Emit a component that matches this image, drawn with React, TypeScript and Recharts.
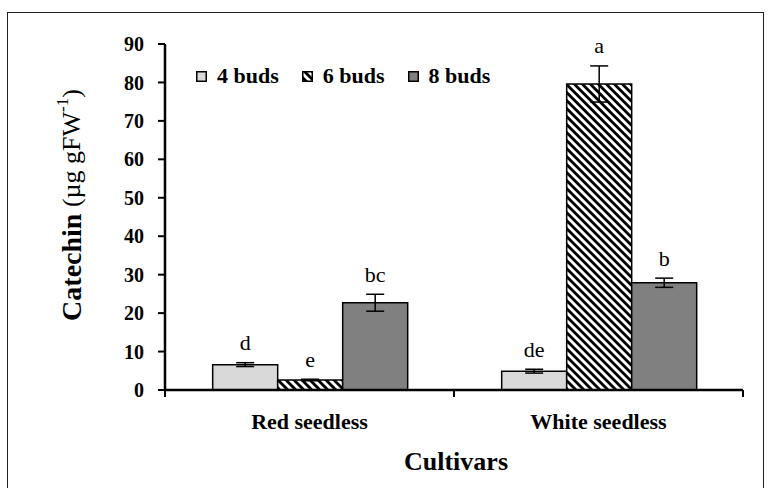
import React from 'react';
import { BarChart, Bar, XAxis, YAxis, ErrorBar, Legend, LabelList } from 'recharts';

const cultivars = ['Red seedless', 'White seedless'];
const buds4 = [6.6, 4.9];
const buds6 = [2.6, 79.6];
const buds8 = [22.7, 27.9];
const err4 = [0.5, 0.5];
const err6 = [0.2, 4.7];
const err8 = [2.2, 1.2];
const letters4 = ['d', 'de'];
const letters6 = ['e', 'a'];
const letters8 = ['bc', 'b'];
const yTicks = [0, 10, 20, 30, 40, 50, 60, 70, 80, 90];
const seriesNames = ['4 buds', '6 buds', '8 buds'];

const FONT = '"Liberation Serif", "Times New Roman", serif';
const FILLS = ['#d9d9d9', 'url(#hatch6)', '#808080'];
const X_TICK = 7;
const X_MARGIN = 32;

const data = cultivars.map((c, i) => ({
  name: c,
  b4: buds4[i],
  b6: buds6[i],
  b8: buds8[i],
  e4: err4[i],
  e6: err6[i],
  e8: err8[i],
}));

const makeLetter = (letters: string[], errs: number[], vals: number[]) => (props: any) => {
  const { x, y, width, height, index } = props;
  const i = typeof index === 'number' ? index : vals.indexOf(props.value);
  const errPx = vals[i] ? (errs[i] / vals[i]) * height : 0;
  return (
    <text
      x={x + width / 2}
      y={y - errPx - 20}
      textAnchor="middle"
      dominantBaseline="central"
      fontFamily={FONT}
      fontSize={22}
      fill="#000"
    >
      {letters[i]}
    </text>
  );
};

const XTick = (props: any) => {
  const { x, y, payload, index, visibleTicksCount } = props;
  const axisY = y - X_TICK - X_MARGIN;
  const half = payload && typeof payload.offset === 'number' ? payload.offset : 0;
  const count = visibleTicksCount || cultivars.length;
  return (
    <g>
      <line x1={x - half} x2={x - half} y1={axisY} y2={axisY + X_TICK} stroke="#000" strokeWidth={2} />
      {index === count - 1 && (
        <line x1={x + half} x2={x + half} y1={axisY} y2={axisY + X_TICK} stroke="#000" strokeWidth={2} />
      )}
      <text x={x} y={y} textAnchor="middle" fontFamily={FONT} fontSize={22} fontWeight="bold" fill="#000">
        {payload.value}
      </text>
    </g>
  );
};

const legendContent = () => (
  <div style={{ display: 'flex', alignItems: 'center', fontFamily: FONT, fontWeight: 'bold', fontSize: 22, color: '#000' }}>
    {seriesNames.map((n, i) => (
      <div key={n} style={{ display: 'flex', alignItems: 'center', marginRight: 23 }}>
        <svg width={11} height={11} style={{ display: 'block' }}>
          <rect x={0.75} y={0.75} width={9.5} height={9.5} fill={FILLS[i]} stroke="#000" strokeWidth={1.5} />
        </svg>
        <span style={{ marginLeft: 10, lineHeight: '20px', whiteSpace: 'nowrap' }}>{n}</span>
      </div>
    ))}
  </div>
);

const yLabel = () => (
  <text transform="translate(71,205) rotate(-90)" textAnchor="middle" dominantBaseline="central" fontFamily={FONT} fill="#000">
    <tspan fontWeight="bold" fontSize={28}>Catechin</tspan>
    <tspan fontSize={26}> (µg gFW</tspan>
    <tspan fontSize={17} dy={-9}>-1</tspan>
    <tspan fontSize={26} dy={9}>)</tspan>
  </text>
);

const xLabel = (props: any) => {
  const vb = props.viewBox || {};
  const cx = (vb.x || 0) + (vb.width || 0) / 2;
  return (
    <text x={cx + 2} y={470} textAnchor="middle" fontFamily={FONT} fontSize={26} fontWeight="bold" fill="#000">
      Cultivars
    </text>
  );
};

export default function App() {
  return (
    <div style={{ position: 'absolute', left: 0, top: 0, width: 774, height: 488, overflow: 'hidden', background: '#fff' }}>
      <div style={{ position: 'absolute', left: 7, top: 12, width: 757, height: 500, border: '1px solid #222', boxSizing: 'border-box' }} />
      <div style={{ position: 'absolute', left: 0, top: 0 }}>
        <BarChart
          width={774}
          height={488}
          data={data}
          margin={{ top: 44, right: 31, left: 85, bottom: 13 }}
          barGap={0}
          barCategoryGap="16.5%"
        >
          <defs>
            <pattern id="hatch6" patternUnits="userSpaceOnUse" width={5.66} height={5.66} patternTransform="rotate(-45)">
              <rect x={0} y={0} width={5.66} height={5.66} fill="#fff" />
              <rect x={0} y={0} width={2.8} height={5.66} fill="#000" />
            </pattern>
          </defs>
          <XAxis
            dataKey="name"
            height={85}
            axisLine={{ stroke: '#000', strokeWidth: 2.5 }}
            tickLine={false}
            tickSize={X_TICK}
            tickMargin={X_MARGIN}
            tick={<XTick />}
            interval={0}
            label={{ content: xLabel }}
          />
          <YAxis
            width={80}
            domain={[0, 90]}
            ticks={yTicks}
            interval={0}
            axisLine={{ stroke: '#000', strokeWidth: 2.5 }}
            tickLine={{ stroke: '#000', strokeWidth: 2 }}
            tickSize={7}
            tickMargin={14}
            tick={{ fontFamily: FONT, fontSize: 20, fontWeight: 'bold', fill: '#000' }}
            label={{ content: yLabel }}
          />
          <Legend
            layout="horizontal"
            verticalAlign="middle"
            align="center"
            content={legendContent}
            wrapperStyle={{ top: 66, left: 196, width: 400, height: 20 }}
          />
          <Bar dataKey="b4" name={seriesNames[0]} fill={FILLS[0]} stroke="#000" strokeWidth={1.5} isAnimationActive={false}>
            <ErrorBar dataKey="e4" width={9} stroke="#000" strokeWidth={1.5} isAnimationActive={false} />
            <LabelList dataKey="b4" content={makeLetter(letters4, err4, buds4)} />
          </Bar>
          <Bar dataKey="b6" name={seriesNames[1]} fill={FILLS[1]} stroke="#000" strokeWidth={1.5} isAnimationActive={false}>
            <ErrorBar dataKey="e6" width={9} stroke="#000" strokeWidth={1.5} isAnimationActive={false} />
            <LabelList dataKey="b6" content={makeLetter(letters6, err6, buds6)} />
          </Bar>
          <Bar dataKey="b8" name={seriesNames[2]} fill={FILLS[2]} stroke="#000" strokeWidth={1.5} isAnimationActive={false}>
            <ErrorBar dataKey="e8" width={9} stroke="#000" strokeWidth={1.5} isAnimationActive={false} />
            <LabelList dataKey="b8" content={makeLetter(letters8, err8, buds8)} />
          </Bar>
        </BarChart>
      </div>
    </div>
  );
}
